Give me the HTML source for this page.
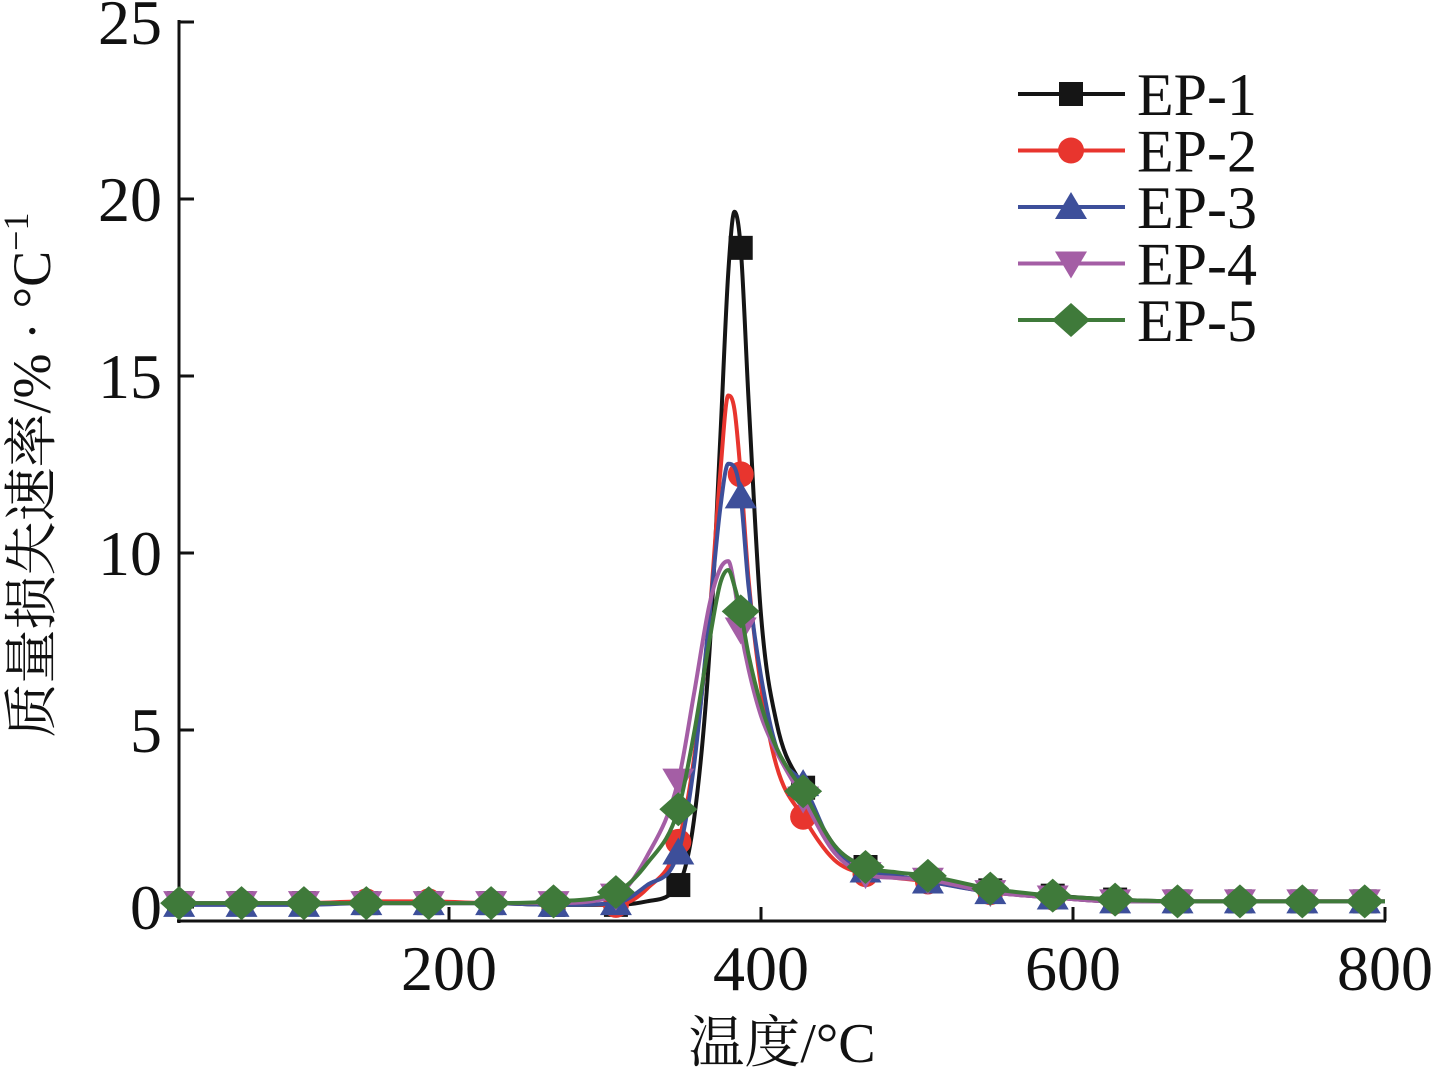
<!DOCTYPE html>
<html><head><meta charset="utf-8"><style>
html,body{margin:0;padding:0;background:#fff;}
svg{display:block;}
text{font-family:"Liberation Serif",serif;fill:#111;}
.cjk{font-family:"Liberation Serif","Noto Serif CJK SC",serif;}
</style></head><body>
<svg id="chart" width="1431" height="1072" viewBox="0 0 1431 1072" xmlns="http://www.w3.org/2000/svg">
<g id="axes"></g>
<g id="series"></g>
<g id="legend"></g>
<text class="cjk" x="782" y="1062" font-size="56" text-anchor="middle">温度/°C</text>
<text class="cjk" transform="translate(50,475) rotate(-90)" font-size="54" text-anchor="middle">质量损失速率/% · °C<tspan font-size="36" dy="-22">−1</tspan></text>
</svg>
<script>
const temps=[27,67,107,147,187,227,267,307,327,347,357,367,374,379,383,387,392,400,410,427,447,467,487,507,547,587,627,667,707,747,787,800];
const ep1=[0.11,0.11,0.11,0.11,0.11,0.11,0.06,0.06,0.16,0.62,2.45,7.23,13.33,17.91,19.64,18.62,14.35,8.25,5.2,3.37,1.74,1.13,0.88,0.72,0.47,0.32,0.21,0.16,0.16,0.16,0.16,0.16];
const ep2=[0.11,0.11,0.11,0.16,0.16,0.11,0.11,0.06,0.52,1.84,4.18,8.25,12.32,14.45,14.05,12.22,9.27,6.22,3.98,2.55,1.33,0.93,0.82,0.72,0.42,0.27,0.16,0.16,0.16,0.16,0.16,0.16];
const ep3=[0.06,0.06,0.06,0.11,0.11,0.11,0.06,0.11,0.62,1.54,3.98,8.25,11.3,12.52,12.42,11.6,9.06,6.52,4.49,3.47,1.64,1.03,0.88,0.72,0.42,0.27,0.16,0.16,0.16,0.16,0.16,0.16];
const ep4=[0.11,0.11,0.11,0.11,0.11,0.11,0.11,0.32,1.44,3.57,6.01,8.55,9.57,9.77,9.06,7.84,6.72,5.4,4.38,3.06,1.54,0.93,0.82,0.77,0.42,0.27,0.16,0.16,0.16,0.16,0.16,0.16];
const ep5=[0.11,0.11,0.11,0.11,0.11,0.11,0.16,0.42,1.23,2.76,4.89,7.54,9.16,9.52,9.06,8.35,7.13,5.71,4.49,3.27,1.74,1.13,0.98,0.88,0.52,0.32,0.21,0.16,0.16,0.16,0.16,0.16];
const markerTemps=[27,67,107,147,187,227,267,307,347,387,427,467,507,547,587,627,667,707,747,787];
const xTicks=[200,400,600,800];
const yTicks=[0,5,10,15,20,25];
const seriesNames=["EP-1","EP-2","EP-3","EP-4","EP-5"];
const seriesData=[ep1,ep2,ep3,ep4,ep5];
const colors=["#151515","#e8352e","#3d4f9a","#a45ea5","#3f7a3a"];
const shapes=["square","circle","up","down","diamond"];

const NS="http://www.w3.org/2000/svg";
function X(t){return 449+(t-200)*1.56;}
function Y(v){return 907-v*35.4;}
function mk(tag,attrs,parent){const e=document.createElementNS(NS,tag);for(const k in attrs)e.setAttribute(k,attrs[k]);parent.appendChild(e);return e;}

const axes=document.getElementById('axes');
const ax1=mk('line',{x1:179,y1:20,x2:179,y2:923,stroke:'#111','stroke-width':3},axes);


const ax2=mk('line',{x1:177,y1:921,x2:1386,y2:921,stroke:'#111','stroke-width':3},axes);


yTicks.forEach(v=>{
  const l=mk('line',{x1:179,x2:194,y1:Y(v),y2:Y(v),stroke:'#111','stroke-width':3},axes);
  
  
  const t=mk('text',{x:162,y:Y(v)+22,'font-size':64,'text-anchor':'end'},axes);
  t.textContent=v;
  
  
});
xTicks.forEach(v=>{
  const l=mk('line',{x1:X(v),x2:X(v),y1:921,y2:907,stroke:'#111','stroke-width':3},axes);
  
  
  const t=mk('text',{x:X(v),y:990,'font-size':64,'text-anchor':'middle'},axes);
  t.textContent=v;
  
  
});

function monotonePath(xs,ys){
  const n=xs.length,d=[],m=[];
  for(let i=0;i<n-1;i++)d.push((ys[i+1]-ys[i])/(xs[i+1]-xs[i]));
  m[0]=d[0];m[n-1]=d[n-2];
  for(let i=1;i<n-1;i++){if(d[i-1]*d[i]<=0)m[i]=0;else m[i]=(d[i-1]+d[i])/2;}
  for(let i=0;i<n-1;i++){if(d[i]===0){m[i]=0;m[i+1]=0;continue;}const a=m[i]/d[i],b=m[i+1]/d[i],s=a*a+b*b;if(s>9){const t=3/Math.sqrt(s);m[i]=t*a*d[i];m[i+1]=t*b*d[i];}}
  let p='M'+xs[0]+','+ys[0];
  for(let i=0;i<n-1;i++){const h=(xs[i+1]-xs[i])/3;p+=' C'+(xs[i]+h)+','+(ys[i]+m[i]*h)+' '+(xs[i+1]-h)+','+(ys[i+1]-m[i+1]*h)+' '+xs[i+1]+','+ys[i+1];}
  return p;
}
function marker(shape,cx,cy,color,parent){
  const s=12;let e;
  if(shape==='square')e=mk('rect',{x:cx-s,y:cy-s,width:2*s,height:2*s,fill:color},parent);
  else if(shape==='circle')e=mk('circle',{cx:cx,cy:cy,r:s+1,fill:color},parent);
  else if(shape==='up')e=mk('polygon',{points:`${cx},${cy-s-3} ${cx+s+4},${cy+s} ${cx-s-4},${cy+s}`,fill:color},parent);
  else if(shape==='down')e=mk('polygon',{points:`${cx},${cy+s+3} ${cx+s+4},${cy-s} ${cx-s-4},${cy-s}`,fill:color},parent);
  else e=mk('polygon',{points:`${cx},${cy-s-5} ${cx+s+7},${cy} ${cx},${cy+s+5} ${cx-s-7},${cy}`,fill:color},parent);
  return e;
}
const sg=document.getElementById('series');
seriesData.forEach((vals,si)=>{
  const g=mk('g',{},sg);
  
  
  const xs=temps.map(X),ys=vals.map(Y);
  const p=mk('path',{d:monotonePath(xs,ys),fill:'none',stroke:colors[si],'stroke-width':4},g);
  
  
  markerTemps.forEach(t=>{
    const i=temps.indexOf(t);
    const m=marker(shapes[si],X(t),Y(vals[i]),colors[si],g);
    
    
  });
});
const lg=document.getElementById('legend');
seriesNames.forEach((n,i)=>{
  const y=94+i*56.5;
  const g=mk('g',{},lg);
  
  
  mk('line',{x1:1018,x2:1125,y1:y,y2:y,stroke:colors[i],'stroke-width':4},g);
  marker(shapes[i],1071,y,colors[i],g);
  const t=mk('text',{x:1137,y:y+21,'font-size':60},g);
  t.textContent=n;
  
  
});
</script>
</body></html>
